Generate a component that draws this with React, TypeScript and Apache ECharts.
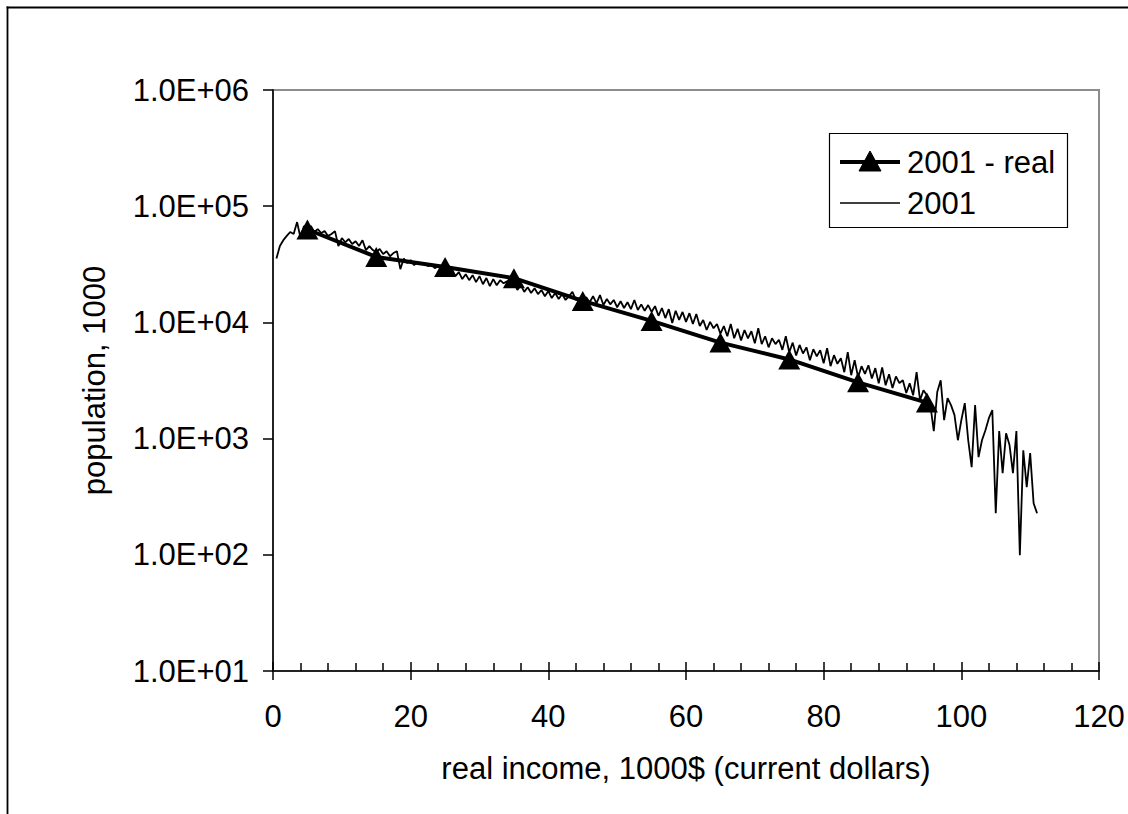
import React, { useEffect, useRef } from "react";
import * as echarts from "echarts";

// "2001 - real": points every 10 thousand dollars
const realIncome = [5, 15, 25, 35, 45, 55, 65, 75, 85, 95];
const realPopulation = [63000, 36600, 30000, 24000, 15300, 10300, 6700, 4800, 3050, 2040];

// "2001": income bins of 0.5 thousand dollars, starting at 0.5
const nominalStart = 0.5;
const nominalStep = 0.5;
const nominalPopulation = [
  35500, 45400, 51000, 55500, 60000, 57600, 73000, 53200, 67500, 62400,
  67500, 60000, 63500, 58800, 61000, 55500, 57600, 61000, 45400, 53200,
  48900, 52200, 47300, 50000, 45400, 51000, 41900, 45400, 41900, 40200,
  42800, 38700, 41000, 37100, 39500, 41000, 28700, 35500, 32400, 34400,
  31100, 33000, 31700, 32400, 30500, 31700, 29300, 30500, 28200, 29300,
  27100, 28700, 25000, 27100, 23600, 26000, 23100, 25500, 22200, 25000,
  21300, 24100, 20500, 23600, 20900, 23100, 21700, 22600, 21300, 22200,
  19000, 20900, 18300, 20100, 17900, 19700, 17500, 19000, 16800, 18600,
  16200, 17900, 15900, 17500, 15600, 16800, 18300, 15600, 16200, 15600,
  16500, 14900, 16800, 14600, 17200, 14100, 15900, 14300, 15600, 13500,
  15200, 13300, 14900, 13000, 15600, 12800, 14300, 12600, 14100, 12300,
  13800, 11400, 13300, 10900, 13000, 9900, 12600, 10500, 12300, 10100,
  12000, 9700, 11800, 9300, 10500, 8600, 10100, 8900, 9700, 8000,
  9300, 7600, 9700, 7300, 8800, 7000, 8600, 7300, 8400, 6600,
  8900, 6500, 7600, 6100, 7300, 6500, 7100, 5800, 7600, 5540,
  6700, 5200, 6400, 5400, 6100, 4730, 5880, 5100, 5770, 4450,
  6000, 4200, 5220, 4400, 4920, 3730, 5540, 3510, 4730, 3370,
  4200, 3600, 4280, 3290, 4040, 2990, 4100, 2880, 3580, 2720,
  3430, 3000, 3180, 2470, 2990, 2360, 3730, 2140, 2610, 2360,
  1940, 1160, 2520, 3180, 1440, 2230, 1940, 1600, 968, 1440,
  2020, 968, 568, 1940, 692, 968, 1180, 1500, 1760, 228,
  1160, 504, 1110, 880, 504, 1160, 99, 794, 382, 750,
  278, 228,
];

const xTickMin = 0;
const xTickMax = 120;
const xTickInterval = 20;
const yMin = 10;
const yMax = 1000000;

const seriesNames = ["2001 - real", "2001"];
const xAxisName = "real income, 1000$ (current dollars)";
const yAxisName = "population, 1000";

const FONT = "'Liberation Sans', Arial, sans-serif";
const FS = 31;

export default function App() {
  const ref = useRef<HTMLDivElement>(null);
  useEffect(() => {
    if (!ref.current) return;
    const chart = echarts.init(ref.current, undefined, { renderer: "svg" });
    const realData = realIncome.map((x, i) => [x, realPopulation[i]]);
    const nominalData = nominalPopulation.map((v, i) => [nominalStart + i * nominalStep, v]);
    const fmtY = (v: number) => {
      const e = Math.round(Math.log10(v));
      return "1.0E+" + String(e).padStart(2, "0");
    };
    const legendText = { fontFamily: FONT, fontSize: FS, fill: "#000" };
    chart.setOption({
      animation: false,
      backgroundColor: "#ffffff",
      textStyle: { fontFamily: FONT, color: "#000" },
      graphic: [
        {
          type: "line",
          shape: { x1: 7.5, y1: 6.5, x2: 7.5, y2: 814 },
          style: { stroke: "#000", lineWidth: 1.8 },
          silent: true,
          z: 10,
        },
        {
          type: "line",
          shape: { x1: 6.6, y1: 7.5, x2: 1128, y2: 7.5 },
          style: { stroke: "#000", lineWidth: 1.8 },
          silent: true,
          z: 10,
        },
        {
          type: "group",
          z: 100,
          children: [
            {
              type: "rect",
              shape: { x: 829.5, y: 133.5, width: 238, height: 94 },
              style: { fill: "#fff", stroke: "#000", lineWidth: 1.2 },
            },
            {
              type: "line",
              shape: { x1: 840, y1: 162, x2: 900, y2: 162 },
              style: { stroke: "#000", lineWidth: 4 },
            },
            {
              type: "polygon",
              shape: { points: [[870, 151], [881, 171], [859, 171]] },
              style: { fill: "#000", stroke: "#000", lineWidth: 1 },
            },
            {
              type: "text",
              x: 907,
              y: 162,
              style: { ...legendText, text: seriesNames[0], verticalAlign: "middle", align: "left" },
            },
            {
              type: "line",
              shape: { x1: 840, y1: 203, x2: 900, y2: 203 },
              style: { stroke: "#000", lineWidth: 1.5 },
            },
            {
              type: "text",
              x: 907,
              y: 203,
              style: { ...legendText, text: seriesNames[1], verticalAlign: "middle", align: "left" },
            },
          ],
        },
      ],
      grid: {
        left: 273,
        top: 90,
        right: 29,
        bottom: 143,
        show: true,
        borderColor: "#8c8c8c",
        borderWidth: 2,
        backgroundColor: "transparent",
      },
      xAxis: [
        {
          type: "value",
          min: xTickMin,
          max: xTickMax,
          interval: xTickInterval,
          name: xAxisName,
          nameLocation: "middle",
          nameGap: 82,
          nameTextStyle: { fontFamily: FONT, fontSize: FS, color: "#000" },
          axisLine: { show: true, onZero: false, lineStyle: { color: "#000", width: 1.5 } },
          axisTick: { show: true, inside: false, length: 9, lineStyle: { color: "#000", width: 1.5 } },
          axisLabel: { fontFamily: FONT, fontSize: FS, color: "#000", margin: 30 },
          splitLine: { show: false },
        },
        {
          type: "value",
          position: "bottom",
          min: xTickMin,
          max: xTickMax,
          interval: xTickInterval,
          axisLine: { show: false },
          axisTick: { show: true, inside: true, length: 9, lineStyle: { color: "#000", width: 1.5 } },
          minorTick: { show: true, splitNumber: 5, length: 8, lineStyle: { color: "#000", width: 1.5 } },
          axisLabel: { show: false },
          splitLine: { show: false },
        },
      ],
      yAxis: {
        type: "log",
        logBase: 10,
        min: yMin,
        max: yMax,
        name: yAxisName,
        nameLocation: "middle",
        nameGap: 163,
        nameTextStyle: { fontFamily: FONT, fontSize: FS, color: "#000" },
        axisLine: { show: true, onZero: false, lineStyle: { color: "#000", width: 1.5 } },
        axisTick: { show: true, inside: false, length: 10, lineStyle: { color: "#000", width: 1.5 } },
        axisLabel: { fontFamily: FONT, fontSize: FS, color: "#000", margin: 24, formatter: fmtY },
        splitLine: { show: false },
        minorTick: { show: false },
      },
      series: [
        {
          name: seriesNames[1],
          type: "line",
          xAxisIndex: 0,
          data: nominalData,
          showSymbol: false,
          symbol: "none",
          lineStyle: { color: "#000", width: 1.8 },
          itemStyle: { color: "#000" },
          z: 2,
        },
        {
          name: seriesNames[0],
          type: "line",
          xAxisIndex: 0,
          data: realData,
          symbol: "triangle",
          symbolSize: [22, 20],
          lineStyle: { color: "#000", width: 4 },
          itemStyle: { color: "#000" },
          z: 3,
        },
      ],
    });
    return () => chart.dispose();
  }, []);
  return (
    <div
      ref={ref}
      style={{ position: "fixed", left: 0, top: 0, width: 1128, height: 814, background: "#fff" }}
    />
  );
}
